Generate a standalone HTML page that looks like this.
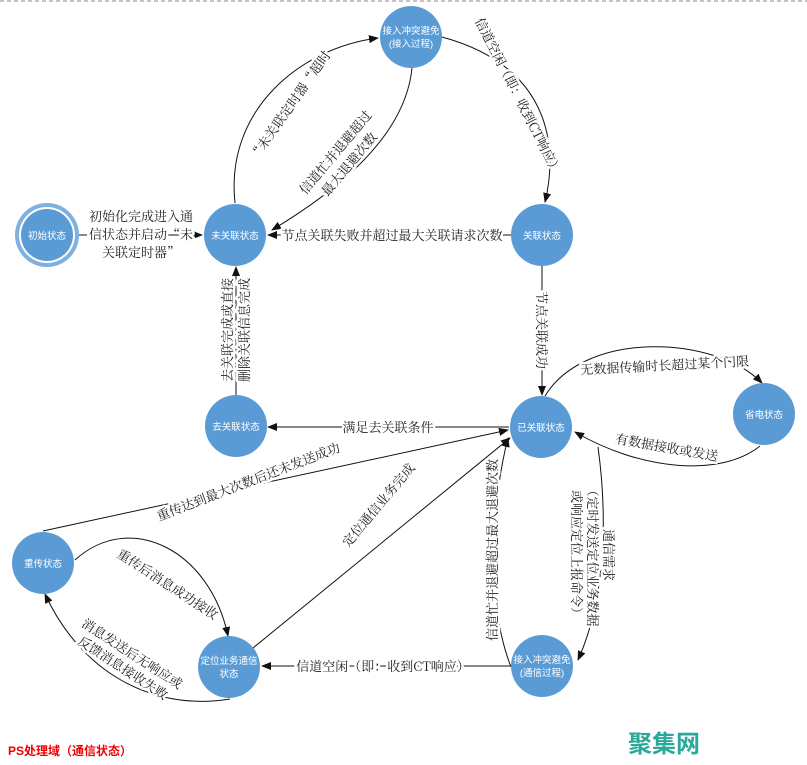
<!DOCTYPE html>
<html><head><meta charset="utf-8"><style>
html,body{margin:0;padding:0;background:#fff;}
svg{display:block;}
.l{font-family:"Noto Serif CJK SC","Liberation Serif",serif;font-size:13px;fill:#222;stroke:#fff;stroke-width:5px;paint-order:stroke;stroke-linejoin:round;}
.n{font-family:"Liberation Sans","Noto Sans CJK SC",sans-serif;font-size:9.5px;fill:#fff;}
.e{fill:none;stroke:#111;stroke-width:1;}
</style></head><body>
<svg width="807" height="765" viewBox="0 0 807 765" xmlns="http://www.w3.org/2000/svg">
<defs><marker id="a" markerWidth="10" markerHeight="8" refX="9" refY="4" orient="auto" markerUnits="userSpaceOnUse"><path d="M0,0 L10,4 L0,8 z" fill="#111"/></marker></defs>
<line x1="0" y1="1" x2="807" y2="1" stroke="#888" stroke-dasharray="4,3"/>

<!-- edges -->
<line class="e" x1="79" y1="235" x2="202" y2="235" marker-end="url(#a)"/>
<path class="e" d="M235,203 C225,110 300,48 378,38" marker-end="url(#a)"/>
<path class="e" d="M412,68 C405,140 330,195 272,230" marker-end="url(#a)"/>
<path class="e" d="M442,37 C545,65 560,140 545,202" marker-end="url(#a)"/>
<line class="e" x1="511" y1="235" x2="268" y2="235" marker-end="url(#a)"/>
<line class="e" x1="542" y1="266" x2="542" y2="395" marker-end="url(#a)"/>
<path class="e" d="M545,396 C585,330 715,335 762,383" marker-end="url(#a)"/>
<path class="e" d="M760,446 C720,478 640,470 575,432" marker-end="url(#a)"/>
<line class="e" x1="509" y1="427" x2="268" y2="427" marker-end="url(#a)"/>
<line class="e" x1="236" y1="395" x2="236" y2="267" marker-end="url(#a)"/>
<line class="e" x1="43" y1="531" x2="508" y2="430" marker-end="url(#a)"/>
<line class="e" x1="253" y1="648" x2="510" y2="438" marker-end="url(#a)"/>
<path class="e" d="M598,447 C608,520 605,600 578,660" marker-end="url(#a)"/>
<path class="e" d="M511,667 C485,600 492,500 508,438" marker-end="url(#a)"/>
<line class="e" x1="510" y1="666" x2="262" y2="666" marker-end="url(#a)"/>
<path class="e" d="M75,560 C130,510 210,550 228,636" marker-end="url(#a)"/>
<path class="e" d="M230,699 C150,712 80,670 45,594" marker-end="url(#a)"/>

<!-- nodes -->
<circle cx="47" cy="235" r="32" fill="#7fb0de"/>
<circle cx="47" cy="235" r="28" fill="#fff"/>
<circle cx="47" cy="235" r="26" fill="#5b9bd5"/>
<text class="n" x="47" y="239" text-anchor="middle">初始状态</text>
<circle cx="235" cy="235" r="31" fill="#5b9bd5"/><text class="n" x="235" y="239" text-anchor="middle">未关联状态</text>
<circle cx="411" cy="37" r="31" fill="#5b9bd5"/><text class="n" x="411" y="34" text-anchor="middle">接入冲突避免</text><text class="n" x="411" y="47" text-anchor="middle">(接入过程)</text>
<circle cx="542" cy="235" r="31" fill="#5b9bd5"/><text class="n" x="542" y="239" text-anchor="middle">关联状态</text>
<circle cx="541" cy="427" r="31" fill="#5b9bd5"/><text class="n" x="541" y="431" text-anchor="middle">已关联状态</text>
<circle cx="764" cy="414" r="31" fill="#5b9bd5"/><text class="n" x="764" y="418" text-anchor="middle">省电状态</text>
<circle cx="236" cy="426" r="31" fill="#5b9bd5"/><text class="n" x="236" y="430" text-anchor="middle">去关联状态</text>
<circle cx="43" cy="563" r="31" fill="#5b9bd5"/><text class="n" x="43" y="567" text-anchor="middle">重传状态</text>
<circle cx="229" cy="667" r="31" fill="#5b9bd5"/><text class="n" x="229" y="664" text-anchor="middle">定位业务通信</text><text class="n" x="229" y="677" text-anchor="middle">状态</text>
<circle cx="542" cy="666" r="31" fill="#5b9bd5"/><text class="n" x="542" y="663" text-anchor="middle">接入冲突避免</text><text class="n" x="542" y="676" text-anchor="middle">(通信过程)</text>

<!-- labels -->
<text class="l" x="141" y="221" text-anchor="middle">初始化完成进入通</text>
<text class="l" x="141" y="239" text-anchor="middle">信状态并启动“未</text>
<text class="l" x="141" y="257" text-anchor="middle">关联定时器”</text>
<text class="l" transform="translate(294,108) rotate(-55)" text-anchor="middle">“未关联定时器“超时</text>
<g transform="translate(342,158) rotate(-50)"><text class="l" x="0" y="-4" text-anchor="middle">信道忙并退避超过</text><text class="l" x="0" y="14" text-anchor="middle">最大退避次数</text></g>
<text class="l" transform="translate(514,98) rotate(63)" text-anchor="middle">信道空闲（即：收到CT响应）</text>
<text class="l" x="392" y="240" text-anchor="middle">节点关联失败并超过最大关联请求次数</text>
<text class="l" transform="translate(537,330) rotate(90)" text-anchor="middle">节点关联成功</text>
<text class="l" transform="translate(665,370) rotate(-3)" text-anchor="middle">无数据传输时长超过某个门限</text>
<text class="l" transform="translate(666,452) rotate(10)" text-anchor="middle">有数据接收或发送</text>
<text class="l" x="388" y="432" text-anchor="middle">满足去关联条件</text>
<g transform="translate(236,330) rotate(-90)"><text class="l" x="0" y="-4" text-anchor="middle">去关联完成或直接</text><text class="l" x="0" y="13" text-anchor="middle">删除关联信息完成</text></g>
<text class="l" transform="translate(250,486) rotate(-21)" text-anchor="middle">重传达到最大次数后还未发送成功</text>
<text class="l" transform="translate(382,508) rotate(-50)" text-anchor="middle">定位通信业务完成</text>
<g transform="translate(590,555) rotate(90)"><text class="l" x="0" y="-14" text-anchor="middle">通信需求</text><text class="l" x="0" y="2" text-anchor="middle">（定时发送定位业务数据</text><text class="l" x="0" y="18" text-anchor="middle">或响应定位上报命令）</text></g>
<text class="l" transform="translate(497,550) rotate(-90)" text-anchor="middle">信道忙并退避超过最大退避次数</text>
<text class="l" x="383" y="671" text-anchor="middle">信道空闲（即：收到CT响应）</text>
<text class="l" transform="translate(165,588) rotate(33)" text-anchor="middle">重传后消息成功接收</text>
<g transform="translate(128,660) rotate(33)"><text class="l" x="0" y="-3" text-anchor="middle">消息发送后无响应或</text><text class="l" x="0" y="14" text-anchor="middle">反馈消息接收失败</text></g>

<text x="8" y="755" font-family="Liberation Sans,'Noto Sans CJK SC',sans-serif" font-size="12" font-weight="bold" fill="#e00">PS处理域（通信状态）</text>
<text x="628" y="752" font-family="'Noto Sans CJK SC',sans-serif" font-size="24" font-weight="bold" fill="#2aa89a">聚集网</text>
</svg>
</body></html>
